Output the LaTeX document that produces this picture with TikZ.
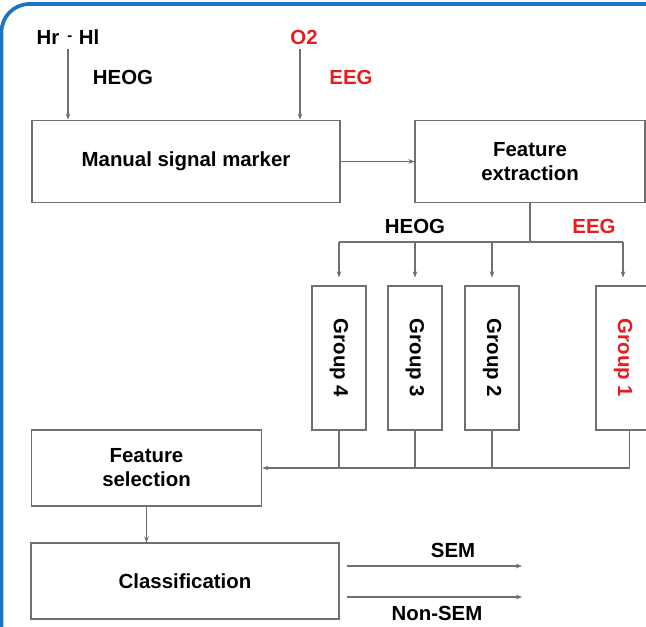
\documentclass[tikz,border=0pt]{standalone}
\usepackage{fontspec}
\setmainfont{Liberation Sans}
\usetikzlibrary{positioning,arrows.meta}
\definecolor{frameblue}{RGB}{28,117,194}
\definecolor{eegred}{RGB}{232,28,30}
\definecolor{linegray}{RGB}{112,112,112}

\begin{document}
\begin{tikzpicture}[
		x=0.75pt, y=-0.75pt,
		font=\fontsize{15.3}{18}\selectfont\bfseries,
		box/.style={draw=linegray, line width=0.8pt, inner sep=0pt, align=center},
		groupbox/.style={box, minimum width=40.5pt, minimum height=108pt},
		link/.style={draw=linegray, line width=0.8pt},
		arrow/.style={link, -{Stealth[length=4.5pt, width=3.5pt]}},
		redlabel/.style={text=eegred}
		]
		\useasboundingbox (0,0) rectangle (646,627);
		\begin{scope}
		\clip (0,0) rectangle (646,627);
		
		% frame
		\draw[frameblue, line width=2.8pt, rounded corners=21pt] (1.5,700) -- (1.5,4) -- (700,4);
		
		% inputs
		\node (hrhl) at (68,37) {Hr\hspace{6pt}{\fontsize{11}{11}\selectfont\raisebox{3pt}{-}}\hspace{5pt}Hl};
		\node (o2) [redlabel] at (304,37) {O2};
		\node (heogin) at (123,77) {HEOG};
		\node (eegin) [redlabel] at (351,77) {EEG};
		
		\node[box, minimum width=231pt, minimum height=62pt] (manual) at (186,161.5) {Manual signal marker};
		\node[box, minimum width=172.5pt, minimum height=62pt] (featext) at (530,161.5) {Feature\\extraction};
		
		\draw[arrow] (hrhl.south) -- (hrhl.south |- manual.north);
		\draw[arrow] ([xshift=-3pt]o2.south) -- ([xshift=-3pt]o2.south |- manual.north);
		\draw[arrow] (manual) -- (featext);
		
		% groups
		\node (heogout) at (415,226) {HEOG};
		\node (eegout) [redlabel] at (594,226) {EEG};
		
		\node[groupbox] (g4) at (339,358) {\rotatebox{-90}{Group 4}};
		\node[groupbox] (g3) at (415,358) {\rotatebox{-90}{Group 3}};
		\node[groupbox] (g2) at (492,358) {\rotatebox{-90}{Group 2}};
		\node[groupbox, text=eegred] (g1) at (623,358) {\rotatebox{-90}{Group 1}};
		
		\coordinate (splitlevel) at (0,242);
		\draw[link] (featext.south) -- (featext.south |- splitlevel);
		\draw[link] (g4.north |- splitlevel) -- (g1.north |- splitlevel);
		\foreach \g in {g4,g3,g2,g1}
		\draw[arrow] (\g.north |- splitlevel) -- ([yshift=6pt]\g.north);
		
		% selection and classification
		\node[box, minimum width=173pt, minimum height=57pt] (featsel) at (146.5,468) {Feature\\selection};
		\node[box, minimum width=231pt, minimum height=57pt] (classif) at (185,581) {Classification};
		
		\draw[arrow] ([xshift=5pt]g1.south) |- (featsel.east);
		\foreach \g in {g4,g3,g2}
		\draw[link] (\g.south) -- (\g.south |- featsel.east);
		\draw[arrow] (featsel.south) -- (featsel.south |- classif.north);
		
		% outputs
		\coordinate (semend) at (522,566);
		\coordinate (nonsemend) at (522,597);
		\path (classif.east |- semend) ++(7,0) coordinate (semstart);
		\path (classif.east |- nonsemend) ++(7,0) coordinate (nonsemstart);
		\draw[arrow] (semstart) -- (semend);
		\draw[arrow] (nonsemstart) -- (nonsemend);
		\node (sem) at (453,550) {SEM};
		\node (nonsem) at (437,613) {Non-SEM};
		\end{scope}
		
	\end{tikzpicture}
\end{document}
